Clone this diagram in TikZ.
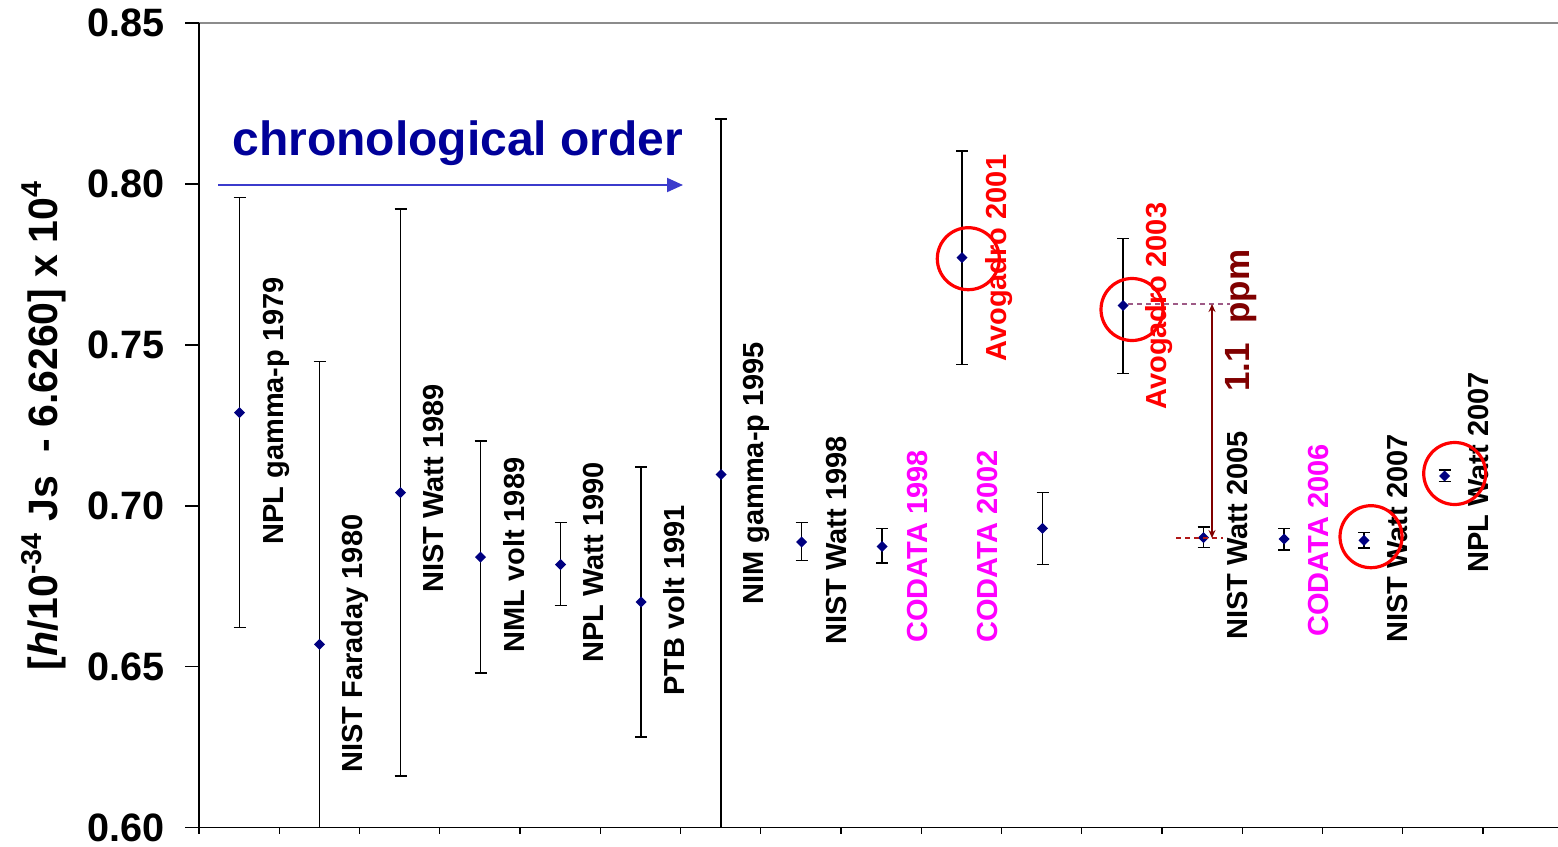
\documentclass[tikz,border=0pt]{standalone}
\usepackage{fontspec}
\setmainfont{Liberation Sans}
\usetikzlibrary{arrows.meta}
\definecolor{navy}{HTML}{000080}
\definecolor{chrontext}{HTML}{000099}
\definecolor{chronarrow}{HTML}{3B3BCC}
\definecolor{magentaC}{HTML}{FF00FF}
\definecolor{redC}{HTML}{FF0000}
\definecolor{maroonC}{HTML}{800000}
\definecolor{mauveC}{HTML}{9E5A86}
\definecolor{dashred}{HTML}{B01818}
\definecolor{gridgray}{HTML}{8C8C8C}
\begin{document}
\begin{tikzpicture}[x=0.5pt,y=-0.5pt,
  lab/.style={rotate=90,anchor=base west,inner sep=0pt,font=\fontsize{14.5}{14.5}\selectfont\bfseries},
  ticklab/.style={anchor=east,inner sep=0pt,font=\fontsize{19.8}{19.8}\selectfont\bfseries},
  errbar/.style={black,line width=0.6pt},
  ring/.style={redC,line width=1.6pt},
  marker/.style={fill=navy}]
\useasboundingbox (0,0) rectangle (1558,846);
% frame
\draw[gridgray,line width=0.8pt] (199,23) -- (1558,23);
\draw[black,line width=0.7pt] (199,23) -- (199,827.5);
\draw[black,line width=0.7pt] (185,827.5) -- (1558,827.5);
\foreach \k in {0,...,16} {\draw[black,line width=0.6pt] (199+\k*80.25,827.5) -- (199+\k*80.25,834);}
\foreach \v/\yy in {0.85/23,0.80/184,0.75/345,0.70/506,0.65/666.7,0.60/827.5} {
  \draw[black,line width=0.6pt] (185,\yy) -- (199,\yy);
  \node[ticklab] (t\v) at (165,\yy) {\v};
}
% y axis title
\node[rotate=90,anchor=base west,inner sep=0pt,font=\fontsize{20.5}{20.5}\selectfont\bfseries] (ytitle) at (57,671)
  {[\textit{h}/10\textsuperscript{-34} Js\ \ - 6.6260] x 10\textsuperscript{4}};
% chronological order
\node[anchor=base west,inner sep=0pt,text=chrontext,font=\fontsize{24}{24}\selectfont\bfseries] (chron) at (232,155) {chronological order};
\coordinate (ca) at (218,185);
\coordinate (cb) at (683,185);
\draw[chronarrow,line width=1pt,-{Triangle[length=8pt,width=7pt]}] (ca) -- (cb);
% error bars with caps at both ends
\foreach \x/\y/\t/\b in {239.5/412.5/197.7/627.7, 400.5/492.7/209/776, 480.5/557/441/673,
  560.5/564.5/522.7/605.3, 641/602/467/737, 801.5/542/522.7/560.3, 882/546.5/528.3/563,
  962/257.7/151/364.7, 1042.5/528.3/492.3/564.7, 1123/305.5/238.3/373.7, 1203.5/537.7/527/547.7,
  1284/539/528.3/550, 1364/540.3/532.7/548, 1444.5/476/470/481.7} {
  \draw[errbar] (\x,\t) -- (\x,\b);
  \draw[errbar] (\x-6,\t) -- (\x+6,\t);
  \draw[errbar] (\x-6,\b) -- (\x+6,\b);
  \fill[marker] (\x-5.5,\y) -- (\x,\y-5.5) -- (\x+5.5,\y) -- (\x,\y+5.5) -- cycle;
}
% error bars running off the bottom
\foreach \x/\y/\t in {319.5/644.3/361.7, 721/474.5/119} {
  \draw[errbar] (\x,\t) -- (\x,827.5);
  \draw[errbar] (\x-6,\t) -- (\x+6,\t);
  \fill[marker] (\x-5.5,\y) -- (\x,\y-5.5) -- (\x+5.5,\y) -- (\x,\y+5.5) -- cycle;
}
% labels
\node[lab] (l1) at (283,545) {NPL gamma-p 1979};
\node[lab] (l2) at (362,773) {NIST Faraday 1980};
\node[lab] (l3) at (443,593) {NIST Watt 1989};
\node[lab] (l4) at (524,653) {NML volt 1989};
\node[lab] (l5) at (603,663) {NPL Watt 1990};
\node[lab] (l6) at (684,696) {PTB volt 1991};
\node[lab] (l7) at (763,605) {NIM gamma-p 1995};
\node[lab] (l8) at (846,645) {NIST Watt 1998};
\node[lab,text=magentaC] (l9) at (927,643) {CODATA 1998};
\node[lab,text=magentaC] (l10) at (997,643) {CODATA 2002};
\node[lab,text=redC] (l11) at (1006,362) {Avogadro 2001};
\node[lab,text=redC] (l12) at (1166,410) {Avogadro 2003};
\node[lab] (l13) at (1247,640) {NIST Watt 2005};
\node[lab,text=magentaC] (l14) at (1328,637) {CODATA 2006};
\node[lab] (l15) at (1407,643) {NIST Watt 2007};
\node[lab] (l16) at (1488,573) {NPL Watt 2007};
% circles
\draw[ring] (968.3,258.7) circle[radius=31];
\draw[ring] (1132,309.5) circle[radius=31];
\draw[ring] (1371,536.7) circle[radius=31];
\draw[ring] (1454.7,473.5) circle[radius=31];
% 1.1 ppm annotation
\coordinate (d1a) at (1128,304);
\coordinate (d1b) at (1230,304);
\coordinate (d2a) at (1176,538);
\coordinate (d2b) at (1223,538);
\draw[mauveC,line width=0.7pt,dash pattern=on 2.5pt off 2pt] (d1a) -- (d1b);
\draw[dashred,line width=0.7pt,dash pattern=on 2.5pt off 2pt] (d2a) -- (d2b);
\coordinate (pa) at (1212,304);
\coordinate (pb) at (1212,538);
\draw[maroonC,line width=0.8pt,{Stealth[length=4pt,width=3.5pt]}-{Stealth[length=4pt,width=3.5pt]}] (pa) -- (pb);
\node[rotate=90,anchor=base west,inner sep=0pt,text=maroonC,font=\fontsize{17.5}{17.5}\selectfont\bfseries] (ppm) at (1249,392) {1.1\ \ ppm};
\end{tikzpicture}
\end{document}
